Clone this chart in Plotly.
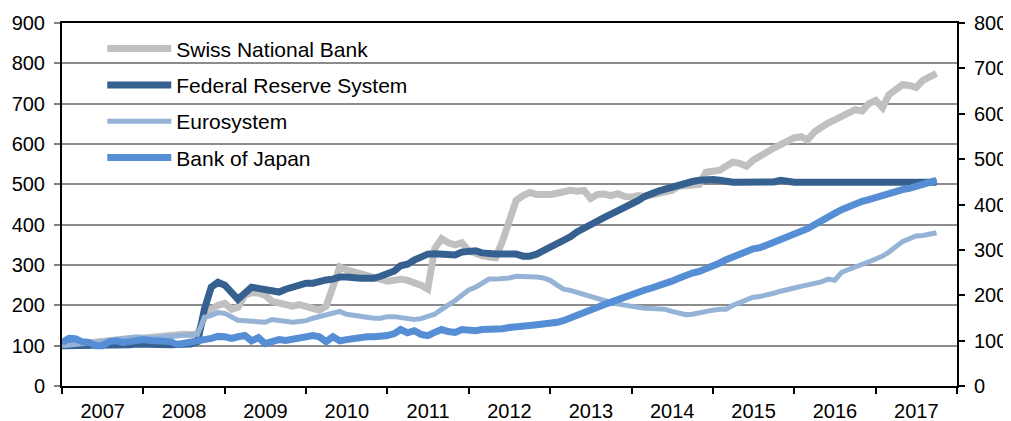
import pandas as pd
import plotly.graph_objects as go

dates = pd.date_range("2007-01-01", periods=130, freq="MS")

swiss = [100, 102, 101, 103, 104, 106, 108, 110, 112, 115, 118, 117,
         119, 120, 121, 122, 124, 130, 128, 127, 130, 170, 190, 200,
         205, 190, 195, 225, 232, 230, 225, 210, 205, 200, 198, 202,
         198, 190, 188, 198, 250, 295, 288, 283, 280, 275, 270, 265,
         260, 262, 265, 262, 258, 250, 240, 340, 365, 355, 350, 355,
         335, 328, 323, 320, 318, 360, 410, 460, 472, 480, 475, 473,
         475, 478, 482, 485, 483, 485, 465, 475, 476, 472, 477, 470,
         468, 472, 470, 474, 476, 478, 485, 495, 498, 500, 500, 530,
         532, 535, 545, 555, 552, 545, 560, 572, 580, 590, 600, 608,
         615, 618, 610, 630, 642, 652, 660, 668, 678, 685, 682, 700,
         708, 690, 722, 735, 747, 745, 740, 758, 765, 775]

fed = [100, 100, 99, 100, 100, 101, 101, 101, 103, 102, 102, 104,
       103, 103, 104, 102, 102, 103, 103, 104, 110, 190, 245, 257,
       250, 230, 215, 230, 245, 242, 238, 235, 233, 240, 245, 250,
       255, 255, 260, 263, 265, 270, 270, 267, 267, 267, 267, 272,
       280, 285, 298, 302, 312, 320, 327, 328, 328, 328, 325, 332,
       333, 335, 330, 327, 327, 327, 327, 327, 322, 322, 327, 335,
       343, 350, 360, 370, 382, 392, 400, 408, 418, 426, 434, 442,
       452, 460, 470, 478, 483, 488, 493, 500, 505, 507, 510, 512,
       512, 510, 506, 505, 505, 505, 505, 505, 505, 506, 510, 506,
       505, 505, 505, 505, 505, 505, 505, 505, 505, 505, 505, 505,
       505, 505, 505, 505, 505, 505, 505, 505, 505, 505]

euro = [100, 101, 103, 104, 106, 108, 110, 112, 116, 118, 120, 122,
        120, 118, 119, 122, 124, 125, 126, 127, 128, 170, 175, 182,
        180, 170, 163, 162, 160, 160, 158, 165, 163, 160, 158, 160,
        162, 168, 172, 175, 180, 185, 178, 175, 172, 170, 168, 168,
        172, 172, 170, 170, 165, 167, 172, 178, 190, 200, 212, 225,
        238, 245, 255, 265, 265, 265, 268, 272, 272, 272, 270, 268,
        262, 250, 240, 237, 232, 228, 220, 215, 210, 207, 203, 200,
        198, 195, 193, 192, 192, 190, 185, 180, 177, 178, 182, 185,
        188, 190, 190, 200, 207, 212, 220, 222, 225, 230, 235, 240,
        243, 247, 250, 255, 258, 265, 262, 282, 288, 293, 300, 308,
        315, 322, 332, 345, 358, 365, 372, 373, 377, 380]

boj = [108, 118, 117, 110, 108, 100, 100, 110, 112, 108, 110, 113,
       115, 113, 112, 112, 110, 103, 105, 108, 110, 115, 118, 123,
       122, 118, 122, 125, 112, 120, 105, 110, 115, 113, 115, 120,
       120, 125, 122, 110, 122, 112, 115, 118, 120, 122, 122, 122,
       125, 130, 140, 132, 137, 128, 125, 133, 140, 135, 133, 140,
       138, 137, 140, 140, 142, 142, 145, 148, 150, 150, 152, 153,
       155, 158, 162, 168, 178, 183, 186, 195, 202, 208, 215, 222,
       225, 235, 238, 243, 248, 252, 260, 267, 275, 280, 284, 290,
       297, 305, 313, 320, 325, 335, 340, 343, 350, 355, 360, 367,
       375, 382, 390, 400, 410, 422, 428, 437, 445, 450, 458, 462,
       468, 473, 477, 482, 487, 490, 495, 498, 503, 510]

series_names = ["Swiss National Bank", "Federal Reserve System", "Eurosystem", "Bank of Japan"]
series_values = [swiss, fed, euro, boj]
series_colors = ["#C0C0C0", "#35608F", "#95B3D7", "#558ED5"]
series_widths = [7, 7, 5, 7]

left_ticks = list(range(0, 1000, 100))
right_ticks = list(range(0, 900, 100))

FONT = "Liberation Sans, Arial, sans-serif"

fig = go.Figure()
for i, (name, vals, col, w) in enumerate(zip(series_names, series_values, series_colors, series_widths)):
    fig.add_trace(go.Scatter(
        x=dates, y=vals, name=name, mode="lines",
        line=dict(color=col, width=w), legendgroup=f"g{i}",
    ))

# trace attached to the right axis so that it is drawn
fig.add_trace(go.Scatter(x=[], y=[], yaxis="y2", showlegend=False, hoverinfo="skip"))

# white legend panel hiding the gridlines behind the legend (between grid and traces)
fig.add_shape(type="rect", xref="paper", yref="paper",
              x0=0.002, x1=0.413, y0=0.6, y1=0.997,
              fillcolor="white", line=dict(width=0), layer="between")

# the page body adds an 8px margin, so the figure is 8px smaller than the window
fig.update_layout(
    width=1003, height=413,
    margin=dict(l=54, r=54, t=15, b=35, autoexpand=False),
    paper_bgcolor="white", plot_bgcolor="white",
    font=dict(family=FONT, size=20, color="black"),
    showlegend=True,
    legend=dict(
        x=0.045, y=0.985, xanchor="left", yanchor="top",
        bgcolor="rgba(255,255,255,0)", borderwidth=0,
        font=dict(size=21, family=FONT),
        tracegroupgap=6, itemwidth=64,
    ),
    xaxis=dict(
        type="date",
        range=["2007-01-01", "2018-01-01"],
        dtick="M12", tick0="2007-01-01",
        tickformat="%Y", ticklabelmode="period",
        ticks="outside", ticklen=6, tickwidth=2, tickcolor="black",
        showline=True, linecolor="black", linewidth=2, mirror=True,
        showgrid=False, zeroline=False, automargin=False,
        tickfont=dict(size=20), ticklabelstandoff=0,
    ),
    yaxis=dict(
        range=[0, 900], tickvals=left_ticks,
        ticks="outside", ticklen=6, tickwidth=2, tickcolor="#808080",
        showline=True, linecolor="black", linewidth=2,
        showgrid=True, gridcolor="#8C8C8C", gridwidth=2,
        zeroline=False, automargin=False,
        tickfont=dict(size=20), ticklabelstandoff=5,
    ),
    yaxis2=dict(
        range=[0, 800], tickvals=right_ticks,
        overlaying="y", side="right", anchor="x",
        ticks="outside", ticklen=6, tickwidth=2, tickcolor="black",
        showline=True, linecolor="black", linewidth=2,
        showgrid=False, zeroline=False, automargin=False,
        tickfont=dict(size=20), ticklabelstandoff=5,
    ),
)

fig.write_html("out.html")
